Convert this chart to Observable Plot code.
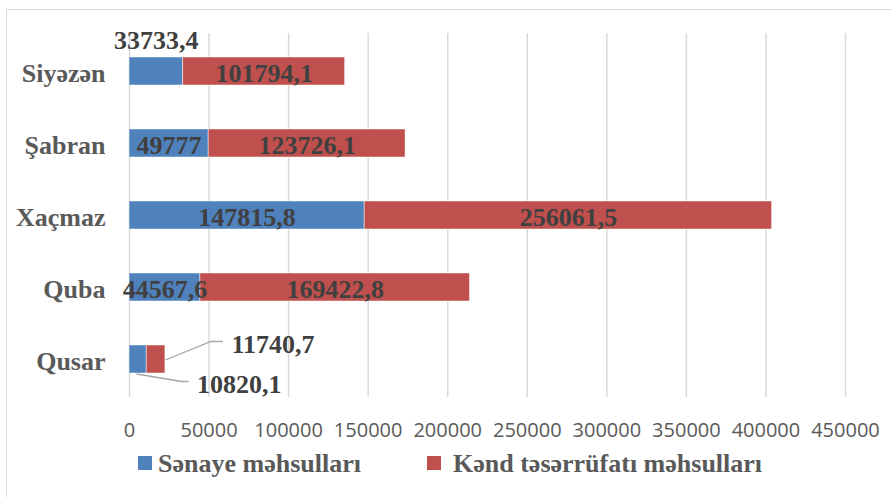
<!DOCTYPE html>
<html>
<head>
<meta charset="utf-8">
<script src="https://cdn.jsdelivr.net/npm/d3@7"></script>
<script src="https://cdn.jsdelivr.net/npm/@observablehq/plot@0.6"></script>
<style>
  body { margin: 0; background: #fff; }
  #wrap { position: relative; width: 892px; height: 497px; overflow: hidden; background: #fff; }
  #frame { position: absolute; left: 6px; top: 9px; right: -4px; bottom: -4px;
           border-left: 1.5px solid #d9d9d9; border-top: 1.5px solid #d9d9d9; }
  #chart { position: absolute; left: 0; top: 0; }
  g[aria-label="y-axis tick label"] text { font: bold 26px "Liberation Serif", serif; fill: #595959; }
  g[aria-label="x-axis tick label"] text { font: 20px "Open Sans", sans-serif; fill: #595959; }
  .lg-sw { position: absolute; width: 14px; height: 14px; }
  .lg-tx { position: absolute; font: bold 26px/26px "Liberation Serif", serif; color: #595959; white-space: nowrap; }
</style>
</head>
<body>
<div id="wrap">
  <div id="frame"></div>
  <div id="chart"></div>
  <div id="legend"></div>
</div>
<script>
// ---- data ----
const categories = ["Siyəzən", "Şabran", "Xaçmaz", "Quba", "Qusar"];
const sanaye = [33733.4, 49777, 147815.8, 44567.6, 10820.1];
const kend = [101794.1, 123726.1, 256061.5, 169422.8, 11740.7];
const seriesNames = ["Sənaye məhsulları", "Kənd təsərrüfatı məhsulları"];
const seriesColors = ["#4F81BD", "#C0504D"];
const xTicks = [0, 50000, 100000, 150000, 200000, 250000, 300000, 350000, 400000, 450000];

const fmt = v => String(v).replace(".", ",");

// stacked rows
const rows = [];
categories.forEach((c, i) => {
  const vals = [sanaye[i], kend[i]];
  let start = 0;
  vals.forEach((v, s) => {
    rows.push({cat: c, series: seriesNames[s], value: v, x1: start, x2: start + v, label: fmt(v), key: c + "|" + s});
    start += v;
  });
});

// labels positioned specially (outside their bar)
const aboveKeys = ["Siyəzən|0"];
const calloutEndKeys = ["Qusar|1"];
const calloutMidKeys = ["Qusar|0"];
const special = new Set([...aboveKeys, ...calloutEndKeys, ...calloutMidKeys]);

const labelFont = {fontFamily: "Liberation Serif", fontWeight: "bold", fontSize: 26, fill: "#404040"};

// leader lines drawn through the scales (pixel offsets are styling)
function leaders(index, scales) {
  const x = scales.x, y = scales.y;
  const bw = typeof y.bandwidth === "function" ? y.bandwidth() : 28;
  const g = d3.create("svg:g").attr("fill", "none").attr("stroke", "#a6a6a6").attr("stroke-width", 1.3);
  const r1 = rows.find(d => d.key === calloutEndKeys[0]);
  const r0 = rows.find(d => d.key === calloutMidKeys[0]);
  const cy1 = y(r1.cat) + bw / 2;
  const ax = x(r1.x2);
  g.append("polyline").attr("points", [[ax + 0.5, cy1 + 1], [ax + 46, cy1 - 17.5], [ax + 58, cy1 - 17.5]].map(p => p.join(",")).join(" "));
  const cy0 = y(r0.cat) + bw / 2;
  const bx = x((r0.x1 + r0.x2) / 2);
  g.append("polyline").attr("points", [[bx - 1, cy0 + 15], [bx + 44, cy0 + 22.5], [bx + 51, cy0 + 22.5]].map(p => p.join(",")).join(" "));
  return g.node();
}

const chart = Plot.plot({
  width: 892,
  height: 450,
  marginLeft: 129,
  marginRight: 47,
  marginTop: 33,
  marginBottom: 53,
  style: {background: "transparent", fontFamily: "Liberation Serif", overflow: "visible"},
  x: {domain: [0, 450000], label: null},
  y: {domain: categories, paddingInner: 0.615, paddingOuter: 0.3075, label: null},
  color: {domain: seriesNames, range: seriesColors},
  marks: [
    Plot.gridX({ticks: xTicks, stroke: "#d9d9d9", strokeOpacity: 1, strokeWidth: 1.5}),
    Plot.barX(rows, {x1: "x1", x2: "x2", y: "cat", fill: "series", stroke: "#ffffff", strokeOpacity: 0.6, strokeWidth: 0.8}),
    Plot.text(rows.filter(d => !special.has(d.key)), {x: d => (d.x1 + d.x2) / 2, y: "cat", text: "label", dy: 2, ...labelFont}),
    Plot.text(rows.filter(d => aboveKeys.includes(d.key)), {x: d => (d.x1 + d.x2) / 2, y: "cat", text: "label", lineAnchor: "bottom", dy: -22.5, ...labelFont}),
    Plot.text(rows.filter(d => calloutEndKeys.includes(d.key)), {x: "x2", y: "cat", text: "label", textAnchor: "start", lineAnchor: "bottom", dx: 66, dy: -7, ...labelFont}),
    Plot.text(rows.filter(d => calloutMidKeys.includes(d.key)), {x: d => (d.x1 + d.x2) / 2, y: "cat", text: "label", textAnchor: "start", lineAnchor: "bottom", dx: 59, dy: 33.5, ...labelFont}),
    leaders,
    Plot.axisX({ticks: xTicks, tickSize: 0, tickPadding: 25, tickFormat: d => String(d), label: null}),
    Plot.axisY({tickSize: 0, tickPadding: 24, label: null, dy: 2})
  ]
});
document.getElementById("chart").appendChild(chart);

// legend (HTML, below the SVG)
const legend = document.getElementById("legend");
const legendSwatchX = [138, 427];
const legendTextX = [158, 453];
seriesNames.forEach((name, i) => {
  const sw = document.createElement("div");
  sw.className = "lg-sw";
  sw.style.left = legendSwatchX[i] + "px";
  sw.style.top = "456px";
  sw.style.background = seriesColors[i];
  legend.appendChild(sw);
  const tx = document.createElement("div");
  tx.className = "lg-tx";
  tx.style.left = legendTextX[i] + "px";
  tx.style.top = "451px";
  tx.textContent = name;
  legend.appendChild(tx);
});
</script>
</body>
</html>
